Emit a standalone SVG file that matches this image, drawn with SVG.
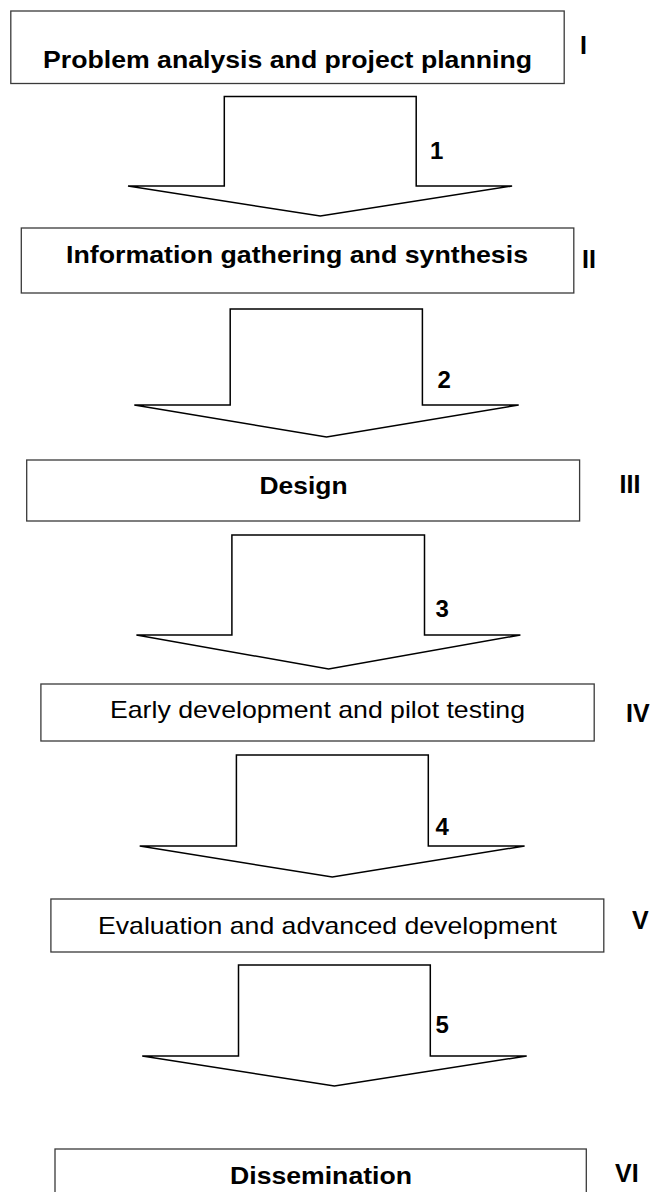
<svg xmlns="http://www.w3.org/2000/svg" width="654" height="1192" viewBox="0 0 654 1192">
<style>
.box{fill:#fff;stroke:#3a3a3a;stroke-width:1.3}
.arr{fill:#fff;stroke:#000;stroke-width:1.5;stroke-linejoin:miter}
.t{font-family:"Liberation Sans",Arial,sans-serif;font-size:24px;fill:#000}
.b{font-weight:bold}
.lab{font-family:"Liberation Sans",Arial,sans-serif;font-size:24px;font-weight:bold;fill:#000}
.rom{font-size:25px}
</style>
<rect width="654" height="1192" fill="#fff"/>
<g id="connectors">
<polygon class="arr" points="224.3,96.5 416.2,96.5 416.2,186 512.1,186 320.3,216 128,186 224.3,186"/>
<polygon class="arr" points="230.2,309 422.4,309 422.4,405 518.7,405 326.5,437 134.3,405 230.2,405"/>
<polygon class="arr" points="231.9,535 424.5,535 424.5,635 520.4,635 328.6,669 136.4,635 231.9,635"/>
<polygon class="arr" points="236.4,755 428.3,755 428.3,846 524.6,846 332.3,877 139.7,846 236.4,846"/>
<polygon class="arr" points="238.5,965 430.3,965 430.3,1056 526.7,1056 334.4,1086 142.2,1056 238.5,1056"/>
<text class="lab" x="430" y="159">1</text>
<text class="lab" x="437.5" y="388">2</text>
<text class="lab" x="435.5" y="617">3</text>
<text class="lab" x="435.5" y="835">4</text>
<text class="lab" x="435.5" y="1033">5</text>
</g>
<g id="node1">
<rect class="box" x="10.8" y="11" width="553.4" height="72.5"/>
<text class="t b" x="43" y="67.5" textLength="489" lengthAdjust="spacingAndGlyphs">Problem analysis and project planning</text>
<text class="lab rom" x="580" y="54">I</text>
</g>
<g id="node2">
<rect class="box" x="21.3" y="228" width="552.5" height="65"/>
<text class="t b" x="66" y="263" textLength="462" lengthAdjust="spacingAndGlyphs">Information gathering and synthesis</text>
<text class="lab rom" x="582" y="268">II</text>
</g>
<g id="node3">
<rect class="box" x="26.7" y="460" width="552.9" height="61"/>
<text class="t b" x="259.5" y="494" textLength="88" lengthAdjust="spacingAndGlyphs">Design</text>
<text class="lab rom" x="619.5" y="493">III</text>
</g>
<g id="node4">
<rect class="box" x="40.9" y="684" width="553.3" height="57"/>
<text class="t" x="110" y="717.5" textLength="415" lengthAdjust="spacingAndGlyphs">Early development and pilot testing</text>
<text class="lab rom" x="626" y="722">IV</text>
</g>
<g id="node5">
<rect class="box" x="50.9" y="899" width="552.9" height="53"/>
<text class="t" x="98" y="934" textLength="459" lengthAdjust="spacingAndGlyphs">Evaluation and advanced development</text>
<text class="lab rom" x="632" y="929">V</text>
</g>
<g id="node6">
<rect class="box" x="55" y="1149" width="531.3" height="60"/>
<text class="t b" x="230" y="1184" textLength="182" lengthAdjust="spacingAndGlyphs">Dissemination</text>
<text class="lab rom" x="615" y="1182">VI</text>
</g>
</svg>
